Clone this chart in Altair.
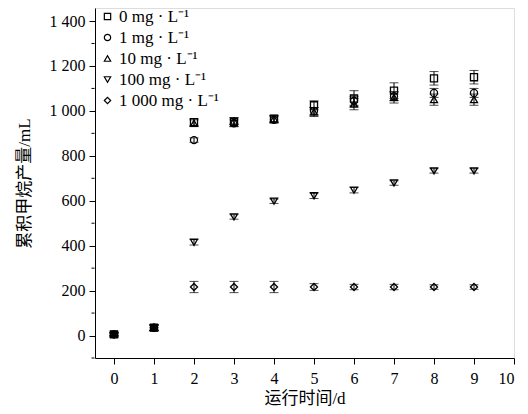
import altair as alt
import pandas as pd

days = [0, 1, 2, 3, 4, 5, 6, 7, 8, 9]
series = ["0 mg · L⁻¹", "1 mg · L⁻¹", "10 mg · L⁻¹", "100 mg · L⁻¹", "1 000 mg · L⁻¹"]
shapes = ["square", "circle", "triangle-up", "triangle-down", "diamond"]

v0 = [5, 35, 950, 950, 965, 1025, 1055, 1090, 1145, 1150]
v1 = [5, 35, 870, 945, 960, 1000, 1045, 1065, 1080, 1080]
v10 = [5, 35, 945, 955, 965, 995, 1030, 1060, 1050, 1050]
v100 = [5, 35, 415, 528, 598, 622, 647, 679, 733, 733]
v1000 = [5, 35, 216, 216, 216, 216, 216, 216, 216, 216]

e0 = [8, 12, 15, 20, 15, 20, 35, 35, 30, 30]
e1 = [8, 12, 10, 15, 15, 15, 20, 20, 20, 20]
e10 = [8, 12, 15, 15, 15, 20, 25, 25, 25, 25]
e100 = [5, 12, 12, 10, 10, 12, 12, 10, 10, 10]
e1000 = [5, 12, 25, 25, 25, 15, 12, 12, 10, 10]

y_major = [0, 200, 400, 600, 800, 1000, 1200, 1400]
y_minor = [-100, 100, 300, 500, 700, 900, 1100, 1300]

vals = [v0, v1, v10, v100, v1000]
errs = [e0, e1, e10, e100, e1000]

rows = []
for s, vv, ee in zip(series, vals, errs):
    for d, v, e in zip(days, vv, ee):
        rows.append({"day": d, "series": s, "value": v, "lo": v - e, "hi": v + e})
df = pd.DataFrame(rows)

SERIF = "'Liberation Serif', 'Noto Sans CJK SC'"

xscale = alt.Scale(domain=[-0.475, 10], nice=False, zero=False)
yscale = alt.Scale(domain=[-100, 1458], nice=False, zero=False)

xaxis = alt.Axis(values=list(range(0, 11)), title="运行时间/d", grid=False,
                 labelFont=SERIF, titleFont=SERIF, labelFontSize=16, titleFontSize=17,
                 titleFontWeight="normal", labelColor="black", titleColor="black",
                 domainColor="black", tickColor="black", tickSize=6, labelPadding=6,
                 titlePadding=4)
yaxis = alt.Axis(values=y_major, title="累积甲烷产量/mL", grid=False,
                 labelFont=SERIF, titleFont=SERIF, labelFontSize=16, titleFontSize=17,
                 titleFontWeight="normal", labelColor="black", titleColor="black",
                 domainColor="black", tickColor="black", tickSize=6,
                 labelPadding=4, titlePadding=16,
                 labelExpr="replace(format(datum.value, ','), ',', ' ')")

base = alt.Chart(df)

rules = base.mark_rule(color="black", strokeWidth=1).encode(
    x=alt.X("day:Q", scale=xscale, axis=xaxis),
    y=alt.Y("lo:Q", scale=yscale, axis=yaxis),
    y2="hi:Q",
)
caps_lo = base.mark_tick(color="black", thickness=1, size=9, orient="horizontal").encode(
    x=alt.X("day:Q", scale=xscale),
    y=alt.Y("lo:Q", scale=yscale),
)
caps_hi = base.mark_tick(color="black", thickness=1, size=9, orient="horizontal").encode(
    x=alt.X("day:Q", scale=xscale),
    y=alt.Y("hi:Q", scale=yscale),
)
points = base.mark_point(filled=False, color="black", strokeWidth=1.3, size=50, opacity=1).encode(
    x=alt.X("day:Q", scale=xscale),
    y=alt.Y("value:Q", scale=yscale),
    shape=alt.Shape("series:N", sort=series,
                    scale=alt.Scale(domain=series, range=shapes),
                    legend=alt.Legend(title=None, orient="none", legendX=4, legendY=0,
                                      labelFont=SERIF, labelFontSize=17, labelColor="black",
                                      symbolSize=40, symbolStrokeColor="black",
                                      symbolStrokeWidth=1.2, symbolOpacity=1,
                                      rowPadding=3, labelOffset=3)),
)

minor = alt.Chart(pd.DataFrame({"m": y_minor})).mark_rule(color="black", strokeWidth=1).encode(
    y=alt.Y("m:Q", scale=yscale),
    x=alt.value(-0.5),
    x2=alt.value(-3.5),
)

chart = alt.layer(rules, caps_lo, caps_hi, points, minor).properties(
    width=419, height=350,
    autosize=alt.AutoSizeParams(type="none"),
    padding={"left": 87, "top": 0, "right": 6, "bottom": 54},
).configure_view(stroke=None).configure(background="white")

chart.save("out.html", embed_options={"renderer": "svg", "actions": False})
